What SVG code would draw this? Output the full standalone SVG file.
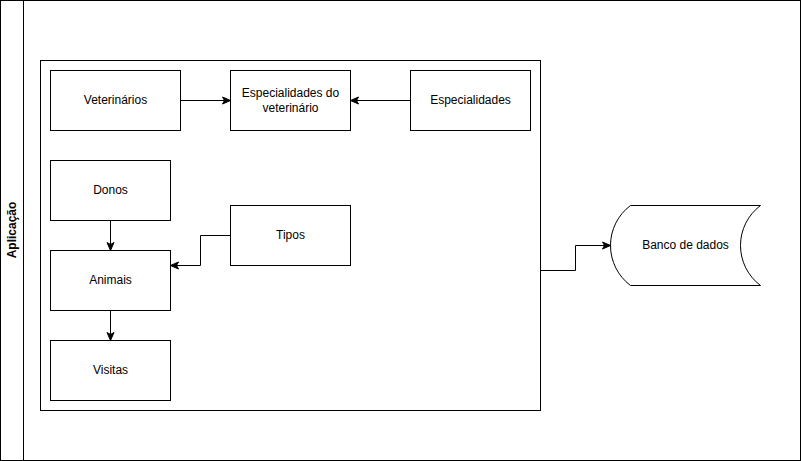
<svg xmlns="http://www.w3.org/2000/svg" width="801" height="461" viewBox="0 0 801 461">
<style>
.box{fill:#fff;stroke:#000;stroke-width:1}
.t{font-family:"Liberation Sans",Arial,sans-serif;font-size:12px;fill:#000;text-anchor:middle;dominant-baseline:central}
.c{fill:none;stroke:#000;stroke-width:1}
</style>
<defs>
<marker id="arr" markerUnits="userSpaceOnUse" markerWidth="10" markerHeight="10" viewBox="0 0 10 10" refX="9" refY="5" orient="auto">
<path d="M1,1.5 L9,5 L1,8.5 L3,5 Z" fill="#000" stroke="#000" stroke-width="1"/>
</marker>
</defs>
<rect width="801" height="461" fill="#fff"/>
<g id="pool">
<rect class="box" x="0.5" y="0.5" width="800" height="460"/>
<line class="c" x1="23.5" y1="0.5" x2="23.5" y2="460.5"/>
<text class="t" font-weight="bold" transform="translate(12,230) rotate(-90)">Aplicação</text>
</g>
<g id="container">
<rect class="box" x="40.5" y="60.5" width="500" height="350"/>
</g>
<g id="veterinarios">
<rect class="box" x="50.5" y="70.5" width="130" height="60"/>
<text class="t" x="115.5" y="100">Veterinários</text>
</g>
<g id="especialidades-veterinario">
<rect class="box" x="230.5" y="70.5" width="120" height="60"/>
<text class="t" x="290.5" y="92.5">Especialidades do</text>
<text class="t" x="290.5" y="107.5">veterinário</text>
</g>
<g id="especialidades">
<rect class="box" x="410.5" y="70.5" width="120" height="60"/>
<text class="t" x="470.5" y="100">Especialidades</text>
</g>
<g id="donos">
<rect class="box" x="50.5" y="160.5" width="120" height="60"/>
<text class="t" x="110.5" y="190">Donos</text>
</g>
<g id="animais">
<rect class="box" x="50.5" y="250.5" width="120" height="60"/>
<text class="t" x="110.5" y="280">Animais</text>
</g>
<g id="tipos">
<rect class="box" x="230.5" y="205.5" width="120" height="60"/>
<text class="t" x="290.5" y="235">Tipos</text>
</g>
<g id="visitas">
<rect class="box" x="50.5" y="340.5" width="120" height="60"/>
<text class="t" x="110.5" y="370">Visitas</text>
</g>
<g id="banco">
<path class="box" d="M630.5,205.5 L760.5,205.5 A50,50 0 0 0 760.5,285.5 L630.5,285.5 A50,50 0 0 1 630.5,205.5 Z"/>
<text class="t" x="685.5" y="245">Banco de dados</text>
</g>
<g id="connectors">
<path class="c" d="M180.5,100.5 L230.5,100.5" marker-end="url(#arr)"/>
<path class="c" d="M410.5,100.5 L350.5,100.5" marker-end="url(#arr)"/>
<path class="c" d="M110.5,220.5 L110.5,250.5" marker-end="url(#arr)"/>
<path class="c" d="M230.5,235.5 L200.5,235.5 L200.5,265.5 L170.5,265.5" marker-end="url(#arr)"/>
<path class="c" d="M110.5,310.5 L110.5,340.5" marker-end="url(#arr)"/>
<path class="c" d="M540.5,270.5 L575.5,270.5 L575.5,245.5 L610.5,245.5" marker-end="url(#arr)"/>
</g>
</svg>
